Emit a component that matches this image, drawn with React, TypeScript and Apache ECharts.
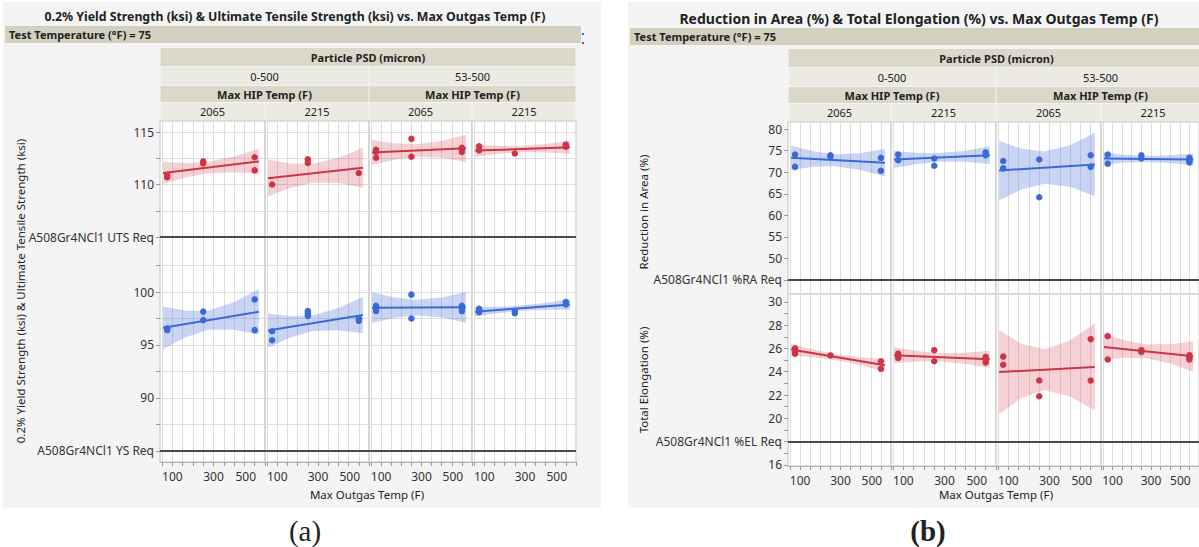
import React, { useEffect, useRef } from "react";
import * as echarts from "echarts";

// ---------------- data ----------------
const psdGroups = ["0-500", "53-500"];
const hipTemps = ["2065", "2215"];
const outgasTickLabels = [100, 300, 500];
const outgasGridValues = [50, 100, 150, 200, 250, 300, 350, 400, 450, 500, 550];
const fitX = [55, 520];

const utsTicks = [105, 107.5, 110, 112.5, 115];
const utsLabels = [105, 110, 115];
const ysTicks = [85, 87.5, 90, 92.5, 95, 97.5, 100, 102.5];
const ysLabels = [85, 90, 95, 100];
const raTicks = [45, 50, 55, 60, 65, 70, 75, 80];
const raLabels = [45, 50, 55, 60, 65, 70, 75, 80];
const elTicks = [16, 17, 18, 19, 20, 21, 22, 23, 24, 25, 26, 27, 28, 29, 30];
const elLabels = [16, 18, 20, 22, 24, 26, 28, 30];

const utsReq = 105;
const ysReq = 85;
const raReq = 45;
const elReq = 18;

// UTS (ksi) per facet [outgas temp, value]
const utsPoints = [
  [[75, 110.9], [75, 110.7], [250, 112.2], [250, 112.0], [500, 112.6], [500, 111.35]],
  [[75, 110.0], [250, 112.4], [250, 112.05], [500, 111.1]],
  [[75, 113.3], [75, 113.1], [75, 112.55], [250, 114.35], [250, 112.65], [500, 113.5], [500, 113.3], [500, 113.1]],
  [[75, 113.65], [75, 113.25], [250, 112.95], [500, 113.8], [500, 113.6]],
];
const utsFit = [[111.1, 112.2], [110.6, 111.6], [113.05, 113.45], [113.23, 113.54]];
const utsBand = [
  [[55, 110.05, 112.15], [165, 110.66, 112.06], [275, 111.07, 112.17], [400, 111.17, 112.67], [520, 111.0, 113.4]],
  [[55, 108.85, 112.35], [165, 109.69, 111.99], [275, 110.17, 111.97], [400, 110.14, 112.54], [520, 109.7, 113.5]],
  [[55, 111.85, 114.25], [165, 112.37, 113.93], [275, 112.64, 113.84], [400, 112.55, 114.15], [520, 112.15, 114.75]],
  [[55, 112.63, 113.83], [165, 112.9, 113.7], [275, 113.08, 113.68], [400, 113.06, 113.86], [520, 112.92, 114.16]],
];

// 0.2% YS (ksi)
const ysPoints = [
  [[75, 96.55], [75, 96.4], [250, 98.15], [250, 97.35], [500, 99.3], [500, 96.4]],
  [[75, 96.3], [75, 95.45], [250, 98.2], [250, 97.98], [250, 97.75], [500, 97.5], [500, 97.28]],
  [[75, 98.7], [75, 98.45], [75, 98.2], [250, 99.75], [250, 97.5], [500, 98.7], [500, 98.45], [500, 98.2]],
  [[75, 98.42], [75, 98.1], [250, 98.2], [250, 98.0], [500, 99.05], [500, 98.82]],
];
const ysFit = [[96.63, 98.14], [96.37, 97.82], [98.52, 98.55], [98.14, 98.83]];
const ysBand = [
  [[55, 94.63, 98.63], [165, 95.74, 98.24], [275, 96.44, 98.24], [400, 96.45, 99.05], [520, 95.99, 100.29]],
  [[55, 94.77, 97.97], [165, 95.71, 97.71], [275, 96.31, 97.81], [400, 96.4, 98.5], [520, 96.12, 99.52]],
  [[55, 97.07, 99.97], [165, 97.57, 99.47], [275, 97.78, 99.28], [400, 97.59, 99.49], [520, 97.1, 100.0]],
  [[55, 97.69, 98.59], [165, 98.0, 98.6], [275, 98.22, 98.72], [400, 98.33, 98.97], [520, 98.33, 99.33]],
];

// Reduction in Area (%)
const raPoints = [
  [[75, 74.1], [75, 71.25], [250, 73.95], [250, 73.6], [500, 73.35], [500, 70.35]],
  [[75, 74.1], [75, 72.8], [250, 73.2], [250, 71.5], [500, 74.6], [500, 73.95]],
  [[75, 72.6], [75, 70.9], [250, 72.95], [250, 64.2], [500, 73.95], [500, 71.25]],
  [[75, 74.1], [75, 72.0], [250, 73.95], [250, 73.2], [500, 73.35], [500, 72.8], [500, 72.3]],
];
const raFit = [[73.35, 72.19], [72.96, 73.97], [70.4, 71.8], [73.2, 72.96]];
const raBand = [
  [[55, 70.55, 76.15], [165, 71.28, 74.88], [275, 71.4, 74.2], [400, 70.54, 74.44], [520, 68.99, 75.39]],
  [[55, 70.96, 74.96], [165, 71.9, 74.5], [275, 72.44, 74.44], [400, 72.41, 75.01], [520, 71.92, 76.02]],
  [[55, 63.5, 77.3], [165, 66.03, 75.43], [275, 67.31, 74.81], [400, 66.64, 76.24], [520, 64.45, 79.15]],
  [[55, 71.8, 74.6], [165, 72.24, 74.04], [275, 72.4, 73.8], [400, 72.12, 73.92], [520, 71.56, 74.36]],
];

// Total Elongation (%)
const elPoints = [
  [[75, 26.0], [75, 25.75], [75, 25.55], [250, 25.4], [500, 24.9], [500, 24.25]],
  [[75, 25.55], [75, 25.38], [75, 25.18], [250, 25.85], [250, 24.9], [500, 25.27], [500, 25.05], [500, 24.8]],
  [[75, 25.3], [75, 24.6], [250, 23.25], [250, 21.9], [500, 26.8], [500, 23.25]],
  [[75, 27.05], [75, 25.05], [250, 25.85], [250, 25.7], [500, 25.42], [500, 25.25], [500, 25.05]],
];
const elFit = [[25.9, 24.55], [25.41, 25.06], [23.97, 24.4], [26.13, 25.32]];
const elBand = [
  [[55, 25.4, 26.4], [165, 25.25, 25.91], [275, 25.01, 25.51], [400, 24.55, 25.25], [520, 24.0, 25.1]],
  [[55, 24.71, 26.11], [165, 24.88, 25.78], [275, 24.89, 25.59], [400, 24.67, 25.63], [520, 24.31, 25.81]],
  [[55, 20.37, 27.57], [165, 21.77, 26.37], [275, 22.42, 25.92], [400, 21.89, 26.69], [520, 20.65, 28.15]],
  [[55, 25.0, 27.26], [165, 25.19, 26.69], [275, 25.15, 26.35], [400, 24.71, 26.35], [520, 24.02, 26.62]],
];

// ---------------- layout / style ----------------
const FONT = "'Noto Sans', 'Open Sans', sans-serif";
const RED = "#cd3547";
const RED_BAND = "rgba(214, 60, 80, 0.24)";
const BLUE = "#3a6ad6";
const BLUE_BAND = "rgba(60, 100, 222, 0.27)";
const HDR_DARK = "#dbd8ca";
const HDR_LIGHT = "#ecebe3";
const TT_BAR = "#d3d0bf";
const PANEL_BG = "#f4f4f4";

type Row = {
  top: number; bottom: number; min: number; max: number;
  ticks: number[]; labels: number[]; req: number; reqLabel: string; hGrid: boolean;
  color: string; fill: string;
  points: number[][][]; fits: number[][]; bands: number[][][];
};
type Panel = {
  facets: number[][]; rows: Row[];
  bg: number[]; title: string; titleX: number; titleY: number; titleSize: number;
  tt: number[]; hdrTops: number[]; hdrHeights: number[];
  yNames: { text: string; x: number; y: number }[];
  xNameX: number; xNameY: number; tag: string; tagX: number; tagBold: boolean;
};

const panels: Panel[] = [
  {
    facets: [[160, 265], [265, 369], [369, 472], [472, 576]],
    rows: [
      { top: 121, bottom: 237, min: 105, max: 116.05, ticks: utsTicks, labels: utsLabels, req: utsReq,
        reqLabel: "A508Gr4NCl1 UTS Req", hGrid: true, color: RED, fill: RED_BAND,
        points: utsPoints, fits: utsFit, bands: utsBand },
      { top: 237, bottom: 462, min: 83.96, max: 105.19, ticks: ysTicks, labels: ysLabels, req: ysReq,
        reqLabel: "A508Gr4NCl1 YS Req", hGrid: true, color: BLUE, fill: BLUE_BAND,
        points: ysPoints, fits: ysFit, bands: ysBand },
    ],
    bg: [3, 2, 598, 506],
    title: "0.2% Yield Strength (ksi) & Ultimate Tensile Strength (ksi) vs. Max Outgas Temp (F)",
    titleX: 295, titleY: 16, titleSize: 12.3,
    tt: [5, 26, 576, 17],
    hdrTops: [48, 67, 86, 103], hdrHeights: [18, 18, 16, 17],
    yNames: [{ text: "0.2% Yield Strength (ksi) & Ultimate Tensile Strength (ksi)", x: 20, y: 291 }],
    xNameX: 367, xNameY: 494, tag: "(a)", tagX: 305, tagBold: false,
  },
  {
    facets: [[788, 891], [891, 996], [996, 1101], [1101, 1205]],
    rows: [
      { top: 122, bottom: 294, min: 41.75, max: 81.66, ticks: raTicks, labels: raLabels, req: raReq,
        reqLabel: "A508Gr4NCl1 %RA Req", hGrid: false, color: BLUE, fill: BLUE_BAND,
        points: raPoints, fits: raFit, bands: raBand },
      { top: 294, bottom: 466, min: 15.91, max: 30.67, ticks: elTicks, labels: elLabels, req: elReq,
        reqLabel: "A508Gr4NCl1 %EL Req", hGrid: false, color: RED, fill: RED_BAND,
        points: elPoints, fits: elFit, bands: elBand },
    ],
    bg: [628, 2, 571, 506],
    title: "Reduction in Area (%) & Total Elongation (%) vs. Max Outgas Temp (F)",
    titleX: 919, titleY: 18, titleSize: 14,
    tt: [630, 28, 569, 17],
    hdrTops: [49, 68, 87, 104], hdrHeights: [18, 18, 16, 17],
    yNames: [
      { text: "Reduction in Area (%)", x: 643, y: 212 },
      { text: "Total Elongation (%)", x: 643, y: 380 },
    ],
    xNameX: 996, xNameY: 494, tag: "(b)", tagX: 928, tagBold: true,
  },
];

function txt(text: string, x: number, y: number, font: string, align = "center", extra: any = {}) {
  return {
    type: "text", x, y, z: 20, silent: true, ...extra,
    style: { text, font, fill: "#222", textAlign: align, textVerticalAlign: "middle", align, verticalAlign: "middle" },
  };
}

const lastTick = outgasTickLabels[outgasTickLabels.length - 1];

function buildOption() {
  const grid: any[] = [];
  const xAxis: any[] = [];
  const yAxis: any[] = [];
  const series: any[] = [];
  const elements: any[] = [];

  panels.forEach((p) => {
    elements.push({ type: "rect", z: -10, silent: true, shape: { x: p.bg[0], y: p.bg[1], width: p.bg[2], height: p.bg[3] }, style: { fill: PANEL_BG } });
    elements.push(txt(p.title, p.titleX, p.titleY, `bold ${p.titleSize}px ${FONT}`));
    elements.push({ type: "rect", z: 5, silent: true, shape: { x: p.tt[0], y: p.tt[1], width: p.tt[2], height: p.tt[3] }, style: { fill: TT_BAR } });
    elements.push(txt("Test Temperature (°F) = 75", p.tt[0] + 4, p.tt[1] + p.tt[3] / 2, `bold 11px ${FONT}`, "left"));

    const f = p.facets;
    const cell = (x0: number, x1: number, row: number, label: string, bold: boolean, fill: string) => {
      elements.push({ type: "rect", z: 5, silent: true, shape: { x: x0 + 0.5, y: p.hdrTops[row], width: x1 - x0 - 1, height: p.hdrHeights[row] }, style: { fill } });
      elements.push(txt(label, (x0 + x1) / 2, p.hdrTops[row] + p.hdrHeights[row] / 2, `${bold ? "bold " : ""}11px ${FONT}`));
    };
    cell(f[0][0], f[3][1], 0, "Particle PSD (micron)", true, HDR_DARK);
    psdGroups.forEach((g, gi) => {
      const a = f[gi * 2], b = f[gi * 2 + 1];
      cell(a[0], b[1], 1, g, false, HDR_LIGHT);
      cell(a[0], b[1], 2, "Max HIP Temp (F)", true, HDR_DARK);
      hipTemps.forEach((h, hi) => {
        const c = f[gi * 2 + hi];
        cell(c[0], c[1], 3, h, false, HDR_LIGHT);
      });
    });

    p.yNames.forEach((n) => elements.push(txt(n.text, n.x, n.y, `11.5px ${FONT}`, "center", { rotation: Math.PI / 2 })));
    elements.push(txt("Max Outgas Temp (F)", p.xNameX, p.xNameY, `11.5px ${FONT}`));
    elements.push(txt(p.tag, p.tagX, 531, `${p.tagBold ? "bold " : ""}29px 'Liberation Serif', 'DejaVu Serif', serif`));

    p.rows.forEach((row, ri) => {
      const isBottom = ri === p.rows.length - 1;
      f.forEach(([x0, x1], fi) => {
        const gi = grid.length;
        grid.push({
          left: x0, top: row.top, width: x1 - x0, height: row.bottom - row.top,
          show: true, backgroundColor: "#ffffff", borderColor: "#c4c4c4", borderWidth: 1,
        });
        xAxis.push({
          gridIndex: gi, type: "value", min: 40, max: 550,
          axisLine: { show: isBottom, onZero: false, lineStyle: { color: "#b5b5b5" } },
          axisTick: { show: isBottom, customValues: outgasGridValues, length: 4, lineStyle: { color: "#999" } },
          axisLabel: {
            show: isBottom, customValues: outgasTickLabels, fontSize: 12, color: "#333", margin: 8, fontFamily: FONT,
            formatter: (v: number) => (v === lastTick ? `{s|${v}}` : String(v)),
            rich: { s: { padding: [0, 18, 0, 0], fontSize: 12, color: "#333", fontFamily: FONT } },
          },
          splitLine: { show: true, lineStyle: { color: "#dedede", width: 1 } },
        });
        yAxis.push({
          gridIndex: gi, type: "value", min: row.min, max: row.max,
          axisLine: { show: false },
          axisTick: { show: fi === 0, customValues: row.ticks, length: 4, lineStyle: { color: "#999" } },
          axisLabel: {
            show: fi === 0, customValues: row.labels, fontSize: 12, color: "#333", margin: 6, fontFamily: FONT,
            formatter: (v: number) => (v === row.req ? row.reqLabel : String(v)),
          },
          splitLine: { show: row.hGrid, lineStyle: { color: "#dedede", width: 1 } },
        });
        const band = row.bands[fi];
        series.push({
          type: "custom", xAxisIndex: gi, yAxisIndex: gi, silent: true, z: 1,
          data: band, encode: { x: 0, y: [1, 2] },
          renderItem: (params: any, api: any) => {
            if (params.dataIndex !== 0) return null;
            const pts = [
              ...band.map((b) => api.coord([b[0], b[1]])),
              ...band.slice().reverse().map((b) => api.coord([b[0], b[2]])),
            ];
            return { type: "polygon", shape: { points: pts }, style: { fill: row.fill } };
          },
        });
        series.push({
          type: "line", xAxisIndex: gi, yAxisIndex: gi, z: 3, silent: true,
          data: [[fitX[0], row.fits[fi][0]], [fitX[1], row.fits[fi][1]]],
          symbol: "none", lineStyle: { color: row.color, width: 2 },
        });
        series.push({
          type: "scatter", xAxisIndex: gi, yAxisIndex: gi, z: 4, silent: true,
          data: row.points[fi], symbolSize: 6.5, itemStyle: { color: row.color, opacity: 1 },
          markLine: {
            silent: true, symbol: ["none", "none"], label: { show: false },
            lineStyle: { color: "#4a4a4a", width: 2, type: "solid" },
            data: [{ yAxis: row.req }],
          },
        });
      });
    });
  });

  elements.push({ type: "rect", z: 20, silent: true, shape: { x: 582, y: 33, width: 2, height: 2 }, style: { fill: BLUE } });
  elements.push({ type: "rect", z: 20, silent: true, shape: { x: 582, y: 42, width: 2, height: 2 }, style: { fill: RED } });

  return {
    animation: false,
    backgroundColor: "#ffffff",
    grid, xAxis, yAxis, series,
    graphic: { elements },
  };
}

export default function App() {
  const ref = useRef<HTMLDivElement>(null);
  useEffect(() => {
    if (!ref.current) return;
    const chart = echarts.init(ref.current, null, { renderer: "svg" });
    chart.setOption(buildOption() as any);
    return () => chart.dispose();
  }, []);
  return <div ref={ref} style={{ position: "fixed", left: 0, top: 0, width: 1199, height: 547 }} />;
}
